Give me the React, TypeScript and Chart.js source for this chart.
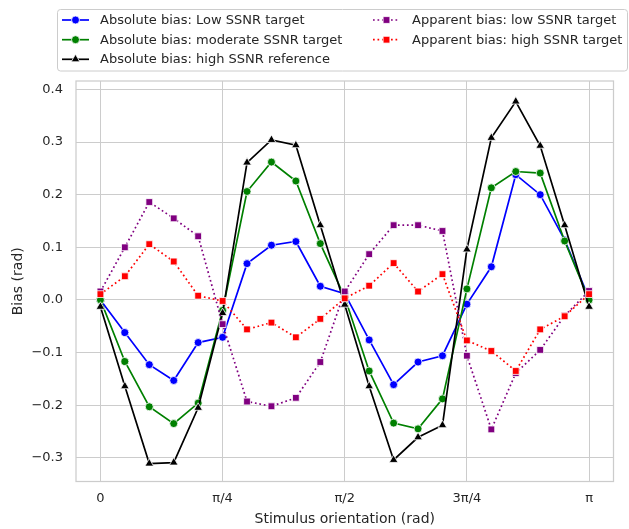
import React, { useEffect, useRef } from 'react';
import { Chart, registerables } from 'chart.js';

Chart.register(...registerables);

// Stimulus orientations, in units of π (0 … π in steps of π/20)
const orientationsInPi = [
  0, 0.05, 0.1, 0.15, 0.2, 0.25, 0.3, 0.35, 0.4, 0.45, 0.5,
  0.55, 0.6, 0.65, 0.7, 0.75, 0.8, 0.85, 0.9, 0.95, 1.0,
];

const absLowTarget = [
  0.0, -0.062, -0.123, -0.153, -0.081, -0.071, 0.069, 0.104, 0.111, 0.026, 0.012,
  -0.076, -0.161, -0.118, -0.106, -0.008, 0.063, 0.238, 0.2, 0.114, 0.003,
];
const absModerateTarget = [
  0.0, -0.117, -0.203, -0.235, -0.196, -0.02, 0.206, 0.262, 0.226, 0.107, 0.005,
  -0.135, -0.234, -0.245, -0.188, 0.021, 0.213, 0.244, 0.241, 0.112, 0.0,
];
const absHighReference = [
  -0.013, -0.164, -0.311, -0.309, -0.205, -0.025, 0.261, 0.304, 0.294, 0.142, -0.009,
  -0.164, -0.304, -0.261, -0.238, 0.096, 0.308, 0.377, 0.293, 0.142, -0.013,
];
const appLowTarget = [
  0.016, 0.1, 0.186, 0.155, 0.121, -0.046, -0.193, -0.202, -0.186, -0.118, 0.016,
  0.087, 0.142, 0.142, 0.131, -0.106, -0.246, -0.139, -0.095, -0.03, 0.017,
];
const appHighTarget = [
  0.011, 0.045, 0.106, 0.073, 0.008, -0.002, -0.056, -0.043, -0.071, -0.036, 0.003,
  0.027, 0.07, 0.016, 0.049, -0.077, -0.097, -0.135, -0.056, -0.031, 0.011,
];

const xTickValuesInPi = [0, 0.25, 0.5, 0.75, 1];
const xTickLabels = ['0', 'π/4', 'π/2', '3π/4', 'π'];
const yTickValues = [-0.3, -0.2, -0.1, 0, 0.1, 0.2, 0.3, 0.4];

const FONT = "'DejaVu Sans', sans-serif";
const TEXT = '#262626';
const GRID = '#cccccc';

type SeriesDef = {
  label: string;
  values: number[];
  color: string;
  marker: 'circle' | 'triangle' | 'rect';
  dotted: boolean;
  col: number;
  row: number;
  order: number;
};

const seriesDefs: SeriesDef[] = [
  { label: 'Absolute bias: Low SSNR target', values: absLowTarget, color: '#0000ff', marker: 'circle', dotted: false, col: 0, row: 0, order: 5 },
  { label: 'Absolute bias: moderate SSNR target', values: absModerateTarget, color: '#008000', marker: 'circle', dotted: false, col: 0, row: 1, order: 4 },
  { label: 'Absolute bias: high SSNR reference', values: absHighReference, color: '#000000', marker: 'triangle', dotted: false, col: 0, row: 2, order: 3 },
  { label: 'Apparent bias: low SSNR target', values: appLowTarget, color: '#800080', marker: 'rect', dotted: true, col: 1, row: 0, order: 2 },
  { label: 'Apparent bias: high SSNR target', values: appHighTarget, color: '#ff0000', marker: 'rect', dotted: true, col: 1, row: 1, order: 1 },
];

const markerRadius = { circle: 4, triangle: 5, rect: 4.8 };
const LINE_W = 1.7;
const DASH = [1.7, 2.8];

function drawMarker(ctx: CanvasRenderingContext2D, kind: string, x: number, y: number, color: string) {
  ctx.save();
  ctx.setLineDash([]);
  ctx.fillStyle = color;
  ctx.strokeStyle = '#ffffff';
  ctx.lineWidth = 0.8;
  ctx.beginPath();
  if (kind === 'circle') {
    ctx.arc(x, y, markerRadius.circle, 0, Math.PI * 2);
  } else if (kind === 'triangle') {
    const r = markerRadius.triangle;
    ctx.moveTo(x, y - r);
    ctx.lineTo(x + r * 0.866, y + r * 0.5);
    ctx.lineTo(x - r * 0.866, y + r * 0.5);
    ctx.closePath();
  } else {
    const h = markerRadius.rect * Math.SQRT1_2;
    ctx.rect(x - h, y - h, 2 * h, 2 * h);
  }
  ctx.fill();
  ctx.stroke();
  ctx.restore();
}

const framePlugin = {
  id: 'frame',
  beforeDatasetsDraw(chart: any) {
    const { ctx, chartArea } = chart;
    ctx.save();
    ctx.strokeStyle = GRID;
    ctx.lineWidth = 1.25;
    ctx.strokeRect(chartArea.left, chartArea.top, chartArea.right - chartArea.left, chartArea.bottom - chartArea.top);
    ctx.restore();
  },
};

const legendPlugin = {
  id: 'customLegend',
  afterDraw(chart: any) {
    const ctx: CanvasRenderingContext2D = chart.ctx;
    ctx.save();
    const bx = 57.5, by = 9.5, bw = 570, bh = 61.5, rr = 3;
    ctx.beginPath();
    ctx.moveTo(bx + rr, by);
    ctx.lineTo(bx + bw - rr, by);
    ctx.quadraticCurveTo(bx + bw, by, bx + bw, by + rr);
    ctx.lineTo(bx + bw, by + bh - rr);
    ctx.quadraticCurveTo(bx + bw, by + bh, bx + bw - rr, by + bh);
    ctx.lineTo(bx + rr, by + bh);
    ctx.quadraticCurveTo(bx, by + bh, bx, by + bh - rr);
    ctx.lineTo(bx, by + rr);
    ctx.quadraticCurveTo(bx, by, bx + rr, by);
    ctx.closePath();
    ctx.fillStyle = 'rgba(255,255,255,0.85)';
    ctx.fill();
    ctx.strokeStyle = GRID;
    ctx.lineWidth = 1;
    ctx.stroke();

    const colX = [{ l0: 62, l1: 89, tx: 100 }, { l0: 373, l1: 400, tx: 412 }];
    const rowY = [20, 39.7, 59.3];
    ctx.font = `13px ${FONT}`;
    ctx.textBaseline = 'middle';
    ctx.textAlign = 'left';
    seriesDefs.forEach((s) => {
      const c = colX[s.col];
      const y = rowY[s.row];
      ctx.beginPath();
      ctx.strokeStyle = s.color;
      ctx.lineWidth = LINE_W;
      ctx.setLineDash(s.dotted ? DASH : []);
      ctx.moveTo(c.l0, y);
      ctx.lineTo(c.l1, y);
      ctx.stroke();
      ctx.setLineDash([]);
      drawMarker(ctx, s.marker, (c.l0 + c.l1) / 2, y, s.color);
      ctx.fillStyle = TEXT;
      ctx.fillText(s.label, c.tx, y + 0.5);
    });
    ctx.restore();
  },
};

function fmtY(v: number) {
  if (Math.abs(v) < 1e-9) return '0.0';
  return (v < 0 ? '\u2212' : '') + Math.abs(v).toFixed(1);
}

export default function App() {
  const ref = useRef<HTMLCanvasElement>(null);

  useEffect(() => {
    if (!ref.current) return;
    const datasets = seriesDefs.map((s) => ({
      label: s.label,
      data: s.values.map((v, i) => ({ x: orientationsInPi[i] * Math.PI, y: v })),
      borderColor: s.color,
      backgroundColor: s.color,
      borderWidth: LINE_W,
      borderDash: s.dotted ? DASH : [],
      pointStyle: s.marker,
      pointRadius: markerRadius[s.marker],
      pointBackgroundColor: s.color,
      pointBorderColor: '#ffffff',
      pointBorderWidth: 0.8,
      tension: 0,
      fill: false,
      order: s.order,
    }));

    const chart = new Chart(ref.current, {
      type: 'line',
      data: { datasets },
      options: {
        responsive: false,
        animation: false,
        devicePixelRatio: 1,
        layout: { padding: { top: 81, right: 15.5, bottom: 0, left: 0 } },
        plugins: { legend: { display: false }, tooltip: { enabled: false } },
        scales: {
          x: {
            type: 'linear',
            min: -0.05 * Math.PI,
            max: 1.05 * Math.PI,
            afterBuildTicks: (scale: any) => {
              scale.ticks = xTickValuesInPi.map((v) => ({ value: v * Math.PI }));
            },
            afterFit: (scale: any) => {
              scale.height = 47.5;
            },
            ticks: {
              autoSkip: false,
              maxRotation: 0,
              padding: 9,
              color: TEXT,
              font: { family: FONT, size: 13 },
              callback: (value: any) => {
                const idx = xTickValuesInPi.findIndex((p) => Math.abs(p * Math.PI - Number(value)) < 1e-6);
                return idx >= 0 ? xTickLabels[idx] : '';
              },
            },
            grid: { color: GRID, lineWidth: 1, drawTicks: false },
            border: { display: false },
            title: {
              display: true,
              text: 'Stimulus orientation (rad)',
              color: TEXT,
              font: { family: FONT, size: 14 },
              padding: { top: 0, bottom: 1 },
            },
          },
          y: {
            type: 'linear',
            min: -0.345,
            max: 0.416,
            afterBuildTicks: (scale: any) => {
              scale.ticks = yTickValues.map((v) => ({ value: v }));
            },
            afterFit: (scale: any) => {
              scale.width = 76;
            },
            ticks: {
              padding: 13,
              color: TEXT,
              font: { family: FONT, size: 13 },
              callback: (value: any) => fmtY(Number(value)),
            },
            grid: { color: GRID, lineWidth: 1, drawTicks: false },
            border: { display: false },
            title: {
              display: true,
              text: 'Bias (rad)',
              color: TEXT,
              font: { family: FONT, size: 14 },
              padding: { top: 10, bottom: 0 },
            },
          },
        },
      },
      plugins: [framePlugin, legendPlugin],
    } as any);

    return () => chart.destroy();
  }, []);

  return (
    <div style={{ position: 'fixed', left: 0, top: 0, width: 629, height: 529, background: '#ffffff' }}>
      <canvas ref={ref} width={629} height={529} style={{ display: 'block', width: 629, height: 529 }} />
    </div>
  );
}
